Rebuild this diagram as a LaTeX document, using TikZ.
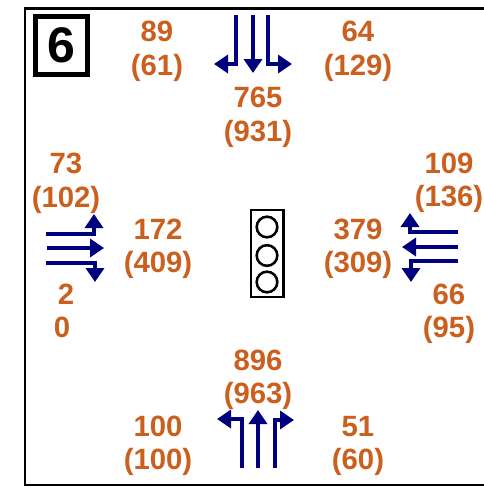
\documentclass[tikz,border=0pt]{standalone}
\usepackage{fontspec}
\setmainfont{Liberation Sans}
\usetikzlibrary{arrows.meta}
\definecolor{lblc}{HTML}{CB5F1E}
\definecolor{lanec}{HTML}{00007F}
\tikzset{
  lane/.style={draw=lanec,line width=2.9pt,-{Triangle[length=10.5pt,width=13.5pt]}},
  lbl/.style={anchor=base,inner sep=0pt,text=lblc,font=\fontsize{22}{24}\selectfont\bfseries},
  sig/.style={draw=black,line width=1.9pt,fill=white},
  lamp/.style={draw=black,line width=1.9pt,circle,minimum size=15.5pt,inner sep=0pt},
}
\begin{document}
\begin{tikzpicture}[x=0.75pt,y=-0.75pt]
\useasboundingbox (0,0) rectangle (484,487);
\draw[line width=2.2pt] (490,8.5) -- (25,8.5) -- (25,485) -- (490,485);
\node[draw=black,line width=3.8pt,minimum width=38.5pt,minimum height=43.5pt,inner sep=0pt,font=\fontsize{37.5}{40}\selectfont\bfseries] (badge) at (61.5,45.5) {6};
% southbound
\draw[lane] (236,15) -- (236,64) -- (214,64);
\draw[lane] (253,15) -- (253,73);
\draw[lane] (268,15) -- (268,64) -- (292,64);
% eastbound
\draw[lane] (46,234) -- (94,234) -- (94,214);
\draw[lane] (47,248) -- (104,248);
\draw[lane] (46,263) -- (95,263) -- (95,282);
% westbound
\draw[lane] (458,232) -- (410,232) -- (410,213);
\draw[lane] (458,247) -- (402,247);
\draw[lane] (458,261) -- (411,261) -- (411,282);
% northbound
\draw[lane] (242,468) -- (242,419) -- (217,419);
\draw[lane] (258,468) -- (258,410);
\draw[lane] (275,468) -- (275,420) -- (294,420);
% signal
\draw[sig] (251,210) rectangle (283.5,297);
\node[lamp] (lampa) at (267,227) {};
\node[lamp] (lampb) at (267,255.5) {};
\node[lamp] (lampc) at (267,282) {};
% labels
\node[lbl] (a1) at (157,41) {89};
\node[lbl] (a2) at (157,75) {(61)};
\node[lbl] (b1) at (358,41) {64};
\node[lbl] (b2) at (358,75) {(129)};
\node[lbl] (c1) at (258,107) {765};
\node[lbl] (c2) at (258,141) {(931)};
\node[lbl] (d1) at (66,173) {73};
\node[lbl] (d2) at (66,207) {(102)};
\node[lbl] (e1) at (158,239) {172};
\node[lbl] (e2) at (158,272) {(409)};
\node[lbl] (f1) at (358,239) {379};
\node[lbl] (f2) at (358,272) {(309)};
\node[lbl] (g1) at (449,173) {109};
\node[lbl] (g2) at (449,206) {(136)};
\node[lbl] (h1) at (66,304) {2};
\node[lbl] (h2) at (62,337) {0};
\node[lbl] (i1) at (449,304) {66};
\node[lbl] (i2) at (449,337) {(95)};
\node[lbl] (j1) at (258,370) {896};
\node[lbl] (j2) at (258,403) {(963)};
\node[lbl] (k1) at (158,436) {100};
\node[lbl] (k2) at (158,469) {(100)};
\node[lbl] (l1) at (358,436) {51};
\node[lbl] (l2) at (358,469) {(60)};
\end{tikzpicture}
\end{document}
